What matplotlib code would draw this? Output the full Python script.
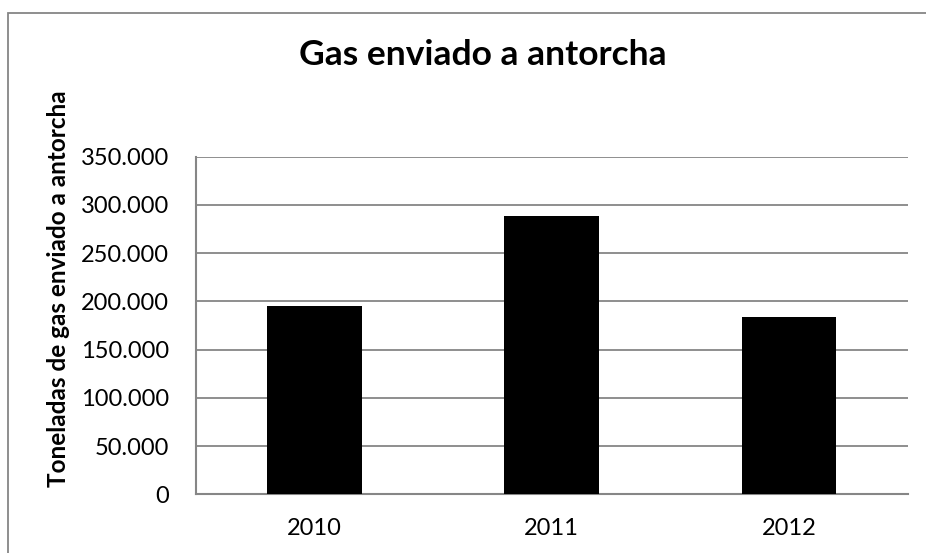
import matplotlib
matplotlib.use("Agg")
import matplotlib.pyplot as plt
from matplotlib.patches import Rectangle
from matplotlib.ticker import FuncFormatter

years = ["2010", "2011", "2012"]
toneladas = [195500, 288500, 183800]
yticks = [0, 50000, 100000, 150000, 200000, 250000, 300000, 350000]

plt.rcParams["font.family"] = ["Lato", "DejaVu Sans"]

fig = plt.figure(figsize=(9.26, 5.53), dpi=100)
ax = fig.add_axes([0.2113, 0.1061, 0.7689, 0.6105])

x = range(len(years))
ax.bar(x, toneladas, width=0.4, color="black", zorder=3)
ax.set_xlim(-0.5, 2.5)
ax.set_ylim(0, 350000)
ax.set_xticks(list(x))
ax.set_xticklabels(years)
ax.set_yticks(yticks)
ax.yaxis.set_major_formatter(FuncFormatter(lambda v, p: f"{int(v):,}".replace(",", ".")))
ax.tick_params(axis="y", length=0, labelsize=17, pad=19)
ax.tick_params(axis="x", length=0, labelsize=17, pad=17)

ax.grid(axis="y", color="#868686", linewidth=1.3, zorder=0)
for s in ["top", "right"]:
    ax.spines[s].set_visible(False)
for s in ["left", "bottom"]:
    ax.spines[s].set_color("#868686")
    ax.spines[s].set_linewidth(1.5)

ax.set_ylabel("Toneladas de gas enviado a antorcha", fontsize=17.5, fontweight="bold")
ax.yaxis.set_label_coords(-0.176, 0.61)
fig.text(0.5216, 0.9, "Gas enviado a antorcha", ha="center", va="center", fontsize=25.5, fontweight="bold")

fig.patches.append(Rectangle((8 / 926, -0.05), 1.0, 0.977 + 0.05, transform=fig.transFigure,
                             fill=False, edgecolor="#868686", linewidth=1.3))

fig.savefig("out.png", dpi=100)
